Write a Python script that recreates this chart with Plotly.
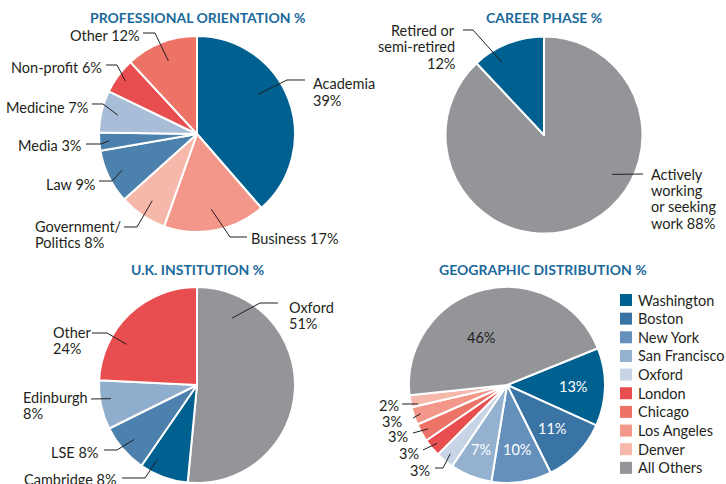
import math
import plotly.graph_objects as go

W, H = 726, 484

# ---------------- data ----------------
prof_labels = ["Academia", "Business", "Government/Politics", "Law", "Media",
               "Medicine", "Non-profit", "Other"]
prof_values = [39, 17, 8, 9, 3, 7, 6, 12]

career_labels = ["Actively working or seeking work", "Retired or semi-retired"]
career_values = [88, 12]

uk_labels = ["Oxford", "Cambridge", "LSE", "Edinburgh", "Other"]
uk_values = [51, 8, 8, 8, 24]

geo_labels = ["Washington", "Boston", "New York", "San Francisco", "Oxford",
              "London", "Chicago", "Los Angeles", "Denver", "All Others"]
geo_values = [13, 11, 10, 7, 3, 3, 3, 3, 2, 46]

titles = ["PROFESSIONAL ORIENTATION %", "CAREER PHASE %",
          "U.K. INSTITUTION %", "GEOGRAPHIC DISTRIBUTION %"]

# ---------------- styles ----------------
DARKBLUE = "#00608f"
BLUE2 = "#3a74a5"
BLUE3 = "#4c80ad"
BLUE4 = "#6490bb"
BLUE5 = "#94b1d0"
BLUE6 = "#a8bdd8"
BLUE7 = "#c6d4e6"
BLUE_ED = "#8fadcd"
RED = "#e84e4f"
RED2 = "#ed7366"
RED3 = "#f2978a"
RED4 = "#f6b8ab"
GRAY = "#939598"
TXT = "#231f20"
TITLE_C = "#1b6a9c"
FONT = "Lato"
FS = 14.5
LH = 16.5

prof_colors = [DARKBLUE, RED3, RED4, BLUE3, BLUE3, BLUE6, RED, RED2]
career_colors = [GRAY, DARKBLUE]
uk_colors = [GRAY, DARKBLUE, BLUE3, BLUE_ED, RED]
geo_colors = [DARKBLUE, BLUE2, BLUE4, BLUE5, BLUE7, RED, RED2, RED3, RED4, GRAY]

# pie geometry (pixel centre, radius, rotation)
pies = [
    dict(cx=197, cy=134, r=98, rot=0),
    dict(cx=544, cy=135, r=98.5, rot=0),
    dict(cx=197, cy=385, r=98, rot=0),
    dict(cx=507, cy=385, r=98, rot=68),
]

def X(x):
    return x / W

def Y(y):
    return 1 - y / H

def mid_angles(values, rot):
    tot = float(sum(values))
    out, c = [], 0.0
    for v in values:
        out.append(rot + (c + v / 2) / tot * 360)
        c += v
    return out

def point(p, ang, f):
    a = math.radians(ang)
    return (p["cx"] + f * p["r"] * math.sin(a), p["cy"] - f * p["r"] * math.cos(a))

fig = go.Figure()
datasets = [
    (prof_labels, prof_values, prof_colors),
    (career_labels, career_values, career_colors),
    (uk_labels, uk_values, uk_colors),
    (geo_labels, geo_values, geo_colors),
]
for (labs, vals, cols), p in zip(datasets, pies):
    fig.add_trace(go.Pie(
        labels=labs, values=vals, sort=False, direction="clockwise",
        rotation=p["rot"], marker=dict(colors=cols, line=dict(color="white", width=2)),
        textinfo="none", hoverinfo="skip", showlegend=False,
        domain=dict(x=[X(p["cx"] - p["r"]), X(p["cx"] + p["r"])],
                    y=[Y(p["cy"] + p["r"]), Y(p["cy"] - p["r"])]),
    ))

annotations = []
shapes = []

def add_text(lines, tx, ty, xa, color=TXT, size=FS, bold=False):
    for i, ln in enumerate(lines):
        annotations.append(dict(
            x=X(tx), y=Y(ty + i * LH), xref="paper", yref="paper",
            text=("<b>%s</b>" % ln) if bold else ln, showarrow=False,
            xanchor=xa, yanchor="middle",
            font=dict(family=FONT, size=size, color=color)))

# label layouts: template, leader (angle override, radius fraction, path points), text pos
label_layout = [
    {  # professional orientation
        "Academia": dict(t=["Academia", "{v}%"], ang=57, f=0.74, pts=[(287, 80), (305, 80)], tx=311, ty=84, xa="left"),
        "Business": dict(t=["Business {v}%"], f=0.78, pts=[(230, 237), (247, 237)], tx=249, ty=239, xa="left"),
        "Government/Politics": dict(t=["Government/", "Politics {v}%"], f=0.82, pts=[(137, 227), (124, 227)], tx=33, ty=226, xa="left"),
        "Law": dict(t=["Law {v}%"], f=0.85, pts=[(112, 181), (99, 181)], tx=97, ty=184, xa="right"),
        "Media": dict(t=["Media {v}%"], f=0.9, pts=[(101, 144), (86, 144)], tx=83, ty=145, xa="right"),
        "Medicine": dict(t=["Medicine {v}%"], f=0.83, pts=[(103, 104), (92, 104)], tx=90, ty=107, xa="right"),
        "Non-profit": dict(t=["Non-profit {v}%"], f=0.91, pts=[(117, 65), (106, 65)], tx=104, ty=68, xa="right"),
        "Other": dict(t=["Other {v}%"], f=0.8, pts=[(155, 33), (143, 33)], tx=142, ty=36, xa="right"),
    },
    {  # career phase
        "Actively working or seeking work": dict(t=["Actively", "working", "or seeking", "work {v}%"], ang=120, f=0.8, pts=[(643, 174)], tx=649, ty=174, xa="left"),
        "Retired or semi-retired": dict(t=["Retired or", "semi-retired", "{v}%"], ang=330, f=0.85, pts=[(473, 30), (463, 30)], tx=457, ty=30, xa="right"),
    },
    {  # UK institution
        "Oxford": dict(t=["Oxford", "{v}%"], ang=27.6, f=0.77, pts=[(260, 303), (278, 303)], tx=287, ty=307, xa="left"),
        "Cambridge": dict(t=["Cambridge {v}%"], ang=208, f=0.86, pts=[(145, 478), (122, 478)], tx=119, ty=479, xa="right"),
        "LSE": dict(t=["LSE {v}%"], f=0.85, pts=[(117, 450), (104, 450)], tx=100, ty=452, xa="right"),
        "Edinburgh": dict(t=["Edinburgh", "{v}%"], ang=261, f=0.89, pts=[(91, 399)], tx=21, ty=397, xa="left"),
        "Other": dict(t=["Other", "{v}%"], ang=300, f=0.83, pts=[(107, 333), (92, 333)], tx=51, ty=332, xa="left"),
    },
    {  # geographic
        "Oxford": dict(t=["{v}%"], f=0.91, pts=[(443, 468), (435, 468)], tx=432, ty=470, xa="right"),
        "London": dict(t=["{v}%"], f=0.93, pts=[(423, 450)], tx=421, ty=453, xa="right"),
        "Chicago": dict(t=["{v}%"], f=0.92, pts=[(413, 433)], tx=410, ty=436, xa="right"),
        "Los Angeles": dict(t=["{v}%"], f=0.93, pts=[(413, 418)], tx=404, ty=421, xa="right"),
        "Denver": dict(t=["{v}%"], ang=258, f=0.93, pts=[(402, 404)], tx=401, ty=405, xa="right"),
    },
]
inside_layout = {  # geographic inside labels
    "Washington": dict(f=0.67, color="white"),
    "Boston": dict(f=0.64, color="white"),
    "New York": dict(f=0.67, color="white"),
    "San Francisco": dict(f=0.71, color="white"),
    "All Others": dict(f=0.55, ang=331, color=TXT),
}

for k, ((labs, vals, cols), p) in enumerate(zip(datasets, pies)):
    mids = mid_angles(vals, p["rot"])
    for lab, v, m in zip(labs, vals, mids):
        spec = label_layout[k].get(lab)
        if spec:
            x0, y0 = point(p, spec.get("ang", m), spec["f"])
            path = "M %f,%f" % (X(x0), Y(y0))
            for (xx, yy) in spec["pts"]:
                path += " L %f,%f" % (X(xx), Y(yy))
            shapes.append(dict(type="path", path=path, xref="paper", yref="paper",
                               line=dict(color=TXT, width=1), layer="above"))
            add_text([s.format(v=v) for s in spec["t"]], spec["tx"], spec["ty"], spec["xa"])
        if k == 3 and lab in inside_layout:
            s = inside_layout[lab]
            xi, yi = point(p, s.get("ang", m), s["f"])
            add_text(["%d%%" % v], xi, yi, "center", color=s["color"])

# titles
title_pos = [(197, 17), (544, 17), (197, 269), (543, 269)]
for t, (tx, ty) in zip(titles, title_pos):
    add_text([t], tx, ty, "center", color=TITLE_C, size=14, bold=True)

# legend for geographic distribution
LEG_X, LEG_Y0, LEG_STEP, SQ = 620, 300, 18.65, 12
for i, (lab, col) in enumerate(zip(geo_labels, geo_colors)):
    yc = LEG_Y0 + i * LEG_STEP
    shapes.append(dict(type="rect", xref="paper", yref="paper",
                       x0=X(LEG_X), x1=X(LEG_X + SQ), y0=Y(yc - SQ / 2), y1=Y(yc + SQ / 2),
                       fillcolor=col, line=dict(width=0), layer="above"))
    add_text([lab], LEG_X + SQ + 4, yc, "left")

fig.update_layout(
    width=W, height=H, margin=dict(l=0, r=0, t=0, b=0),
    paper_bgcolor="white", plot_bgcolor="white",
    annotations=annotations, shapes=shapes,
    font=dict(family=FONT, size=FS, color=TXT),
)
fig.write_html("out.html", config={"displayModeBar": False},
               post_script="document.body.style.margin='0';document.body.style.padding='0';"
                           "document.body.style.overflow='hidden';")
